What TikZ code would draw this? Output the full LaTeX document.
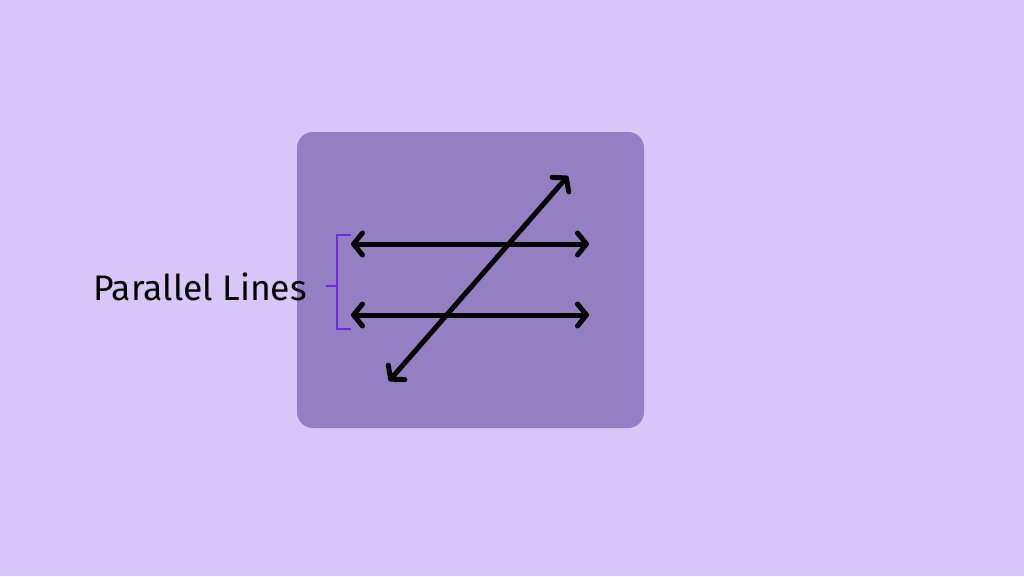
\documentclass[tikz,border=0pt]{standalone}
\usepackage{fontspec}
\setmainfont{Fira Sans}
\usetikzlibrary{arrows.meta}
\definecolor{bgc}{HTML}{D7C6F7}
\definecolor{boxc}{HTML}{957FC3}
\definecolor{brc}{HTML}{6A2BE6}
\tikzset{
  ray/.style={line width=5pt, line cap=round, black,
    {Straight Barb[length=9pt,width=22pt,line cap=round,line join=round]}-{Straight Barb[length=9pt,width=22pt,line cap=round,line join=round]}},
  bracket/.style={line width=2.6pt, brc},
  lbl/.style={font=\fontsize{35.5}{38}\selectfont, inner sep=0pt, anchor=base west}
}
\begin{document}
\begin{tikzpicture}[x=1pt,y=-1pt]
\useasboundingbox (0,0) rectangle (1024,576);
\fill[bgc] (0,0) rectangle (1024,576);
\fill[boxc, rounded corners=16pt] (297,132) rectangle (644,428);
\coordinate (a1) at (351,244);
\coordinate (a2) at (589,244);
\coordinate (b1) at (351,315);
\coordinate (b2) at (589,315);
\coordinate (c1) at (389,381);
\coordinate (c2) at (568,176);
\draw[ray] (a1) -- (a2);
\draw[ray] (b1) -- (b2);
\draw[ray] (c1) -- (c2);
\coordinate (t1) at (351,235);
\coordinate (t2) at (337,235);
\coordinate (t3) at (337,329);
\coordinate (t4) at (351,329);
\coordinate (m1) at (337,286);
\coordinate (m2) at (326,286);
\draw[bracket] (t1) -- (t2) -- (t3) -- (t4);
\draw[bracket] (m1) -- (m2);
\node[lbl] (label) at (93,300) {Parallel Lines};
\end{tikzpicture}
\end{document}
